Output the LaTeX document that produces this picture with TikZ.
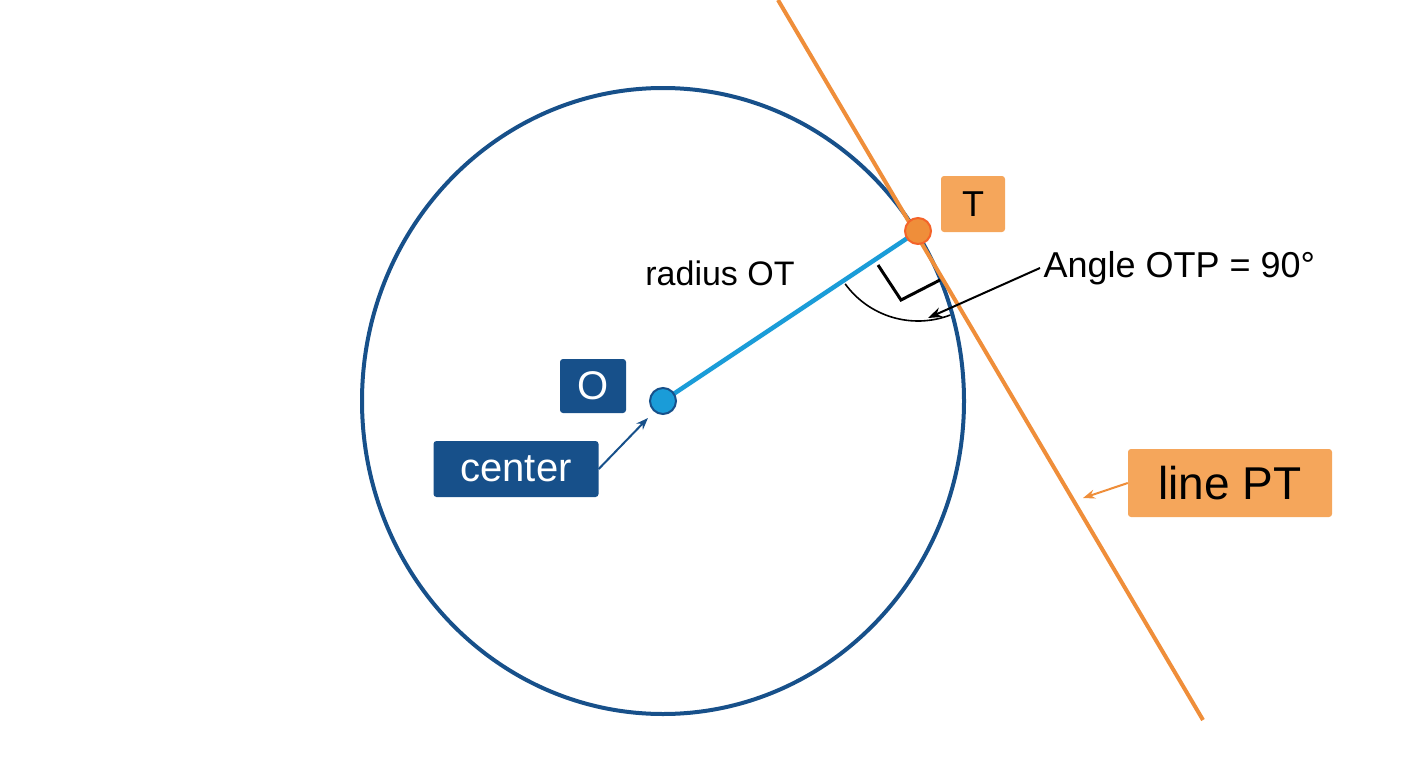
\documentclass[tikz,border=0pt]{standalone}
\usepackage{fontspec}
\setmainfont{Liberation Sans}
\usetikzlibrary{arrows.meta,calc}
\definecolor{dblue}{HTML}{17508A}
\definecolor{lblue}{HTML}{1A9CD8}
\definecolor{orng}{HTML}{EF8E3A}
\definecolor{lorng}{HTML}{F5A65B}
\begin{document}
\begin{tikzpicture}[x=1pt,y=-1pt,
  bluebox/.style={fill=dblue,text=white,rounded corners=3pt,inner sep=4pt,font=\fontsize{40}{40}\selectfont},
  orbox/.style={fill=lorng,text=black,rounded corners=3pt,inner sep=5pt},
  lbl/.style={font=\fontsize{36}{36}\selectfont}]
\useasboundingbox (0,0) rectangle (1408,768);
\coordinate (O) at (663,401);
\coordinate (T) at (918,231);
\coordinate (P1) at (778,0);
\coordinate (P2) at (1203,720);
\draw[dblue,line width=4pt] (O) ellipse [x radius=301,y radius=313];
\draw[orng,line width=4pt] (P1) -- (P2);
\draw[lblue,line width=4.5pt] (O) -- (T);
\node[circle,fill=lblue,draw=dblue,line width=2pt,minimum size=26pt,inner sep=0] (Odot) at (O) {};
\node[circle,fill=orng,draw=orng!70!red,line width=2pt,minimum size=26pt,inner sep=0] (Tdot) at (T) {};
% right angle marker
\draw[black,line width=3pt] (878,265) -- (901,300) -- (940,280);
\draw[black,line width=1.6pt] ($(T)+(144:90)$) arc[start angle=144,end angle=69,radius=90];
\node[orbox,font=\fontsize{36}{36}\selectfont,minimum width=64pt,minimum height=56pt] (Tl) at (973,204) {T};
\node[bluebox,minimum width=66pt,minimum height=54pt] (Ol) at (593,386) {O};
\node[bluebox,minimum width=165pt,minimum height=56pt] (cl) at (516,469) {center};
\node[orbox,font=\fontsize{46}{46}\selectfont,minimum width=204pt,minimum height=68pt] (pl) at (1230,483) {line PT};
\node[lbl,anchor=west] (al) at (1040,268) {Angle OTP = 90°};
\node[font=\fontsize{34}{34}\selectfont] (rl) at (720,273) {radius OT};
\coordinate (ctip) at (648,418);
\coordinate (atip) at (928,318);
\coordinate (ptip) at (1083,498);
\draw[dblue,line width=2pt,-{Stealth[length=12pt,width=9pt]}] (cl.east) -- (ctip);
\draw[black,line width=2pt,-{Stealth[length=14pt,width=10pt]}] (al.west) -- (atip);
\draw[orng,line width=2pt,-{Stealth[length=12pt,width=9pt]}] (pl.west) -- (ptip);
\end{tikzpicture}
\end{document}
